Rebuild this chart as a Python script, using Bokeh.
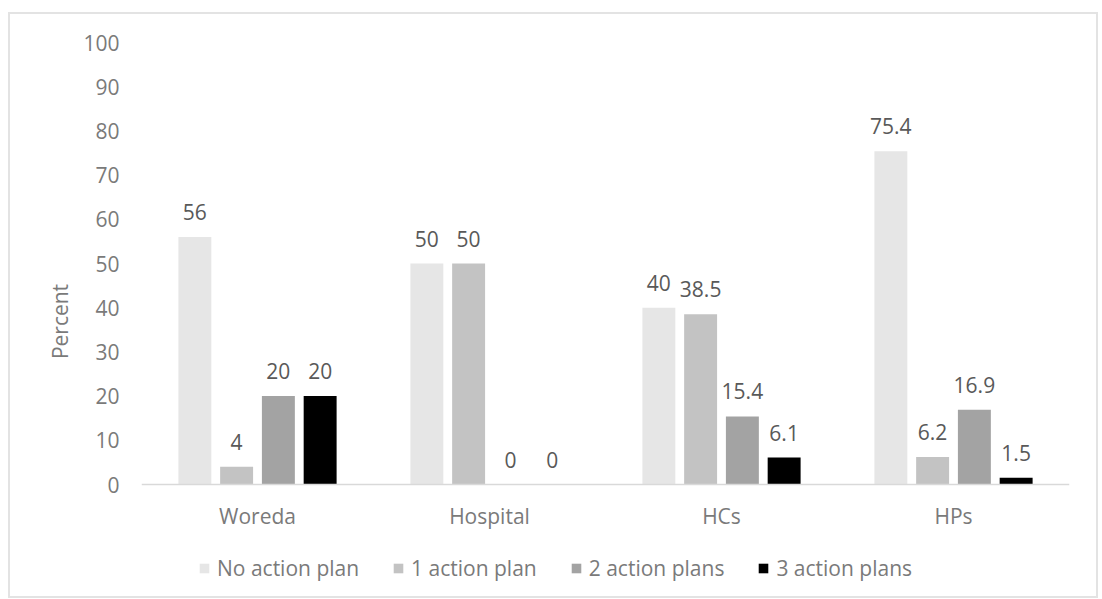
from bokeh.plotting import figure
from bokeh.models import ColumnDataSource, Range1d, FixedTicker, LabelSet, Legend, LegendItem, Span
from bokeh.transform import dodge
from bokeh.core.properties import value
from bokeh.embed import file_html
from bokeh.resources import INLINE

categories = ["Woreda", "Hospital", "HCs", "HPs"]
series = ["No action plan", "1 action plan", "2 action plans", "3 action plans"]
no_action = [56, 50, 40, 75.4]
one_action = [4, 50, 38.5, 6.2]
two_actions = [20, 0, 15.4, 16.9]
three_actions = [20, 0, 6.1, 1.5]
y_ticks = [0, 10, 20, 30, 40, 50, 60, 70, 80, 90, 100]

colors = ["#e6e6e6", "#c3c3c3", "#a3a3a3", "#000000"]
values = [no_action, one_action, two_actions, three_actions]
FONT = "Open Sans"
FS = "21px"

# frame extends below zero so the category labels and legend sit inside it
frame_h = 558
y_start = -(frame_h - 442) / 442 * 100
p = figure(x_range=categories, y_range=Range1d(y_start, 100), width=1090, height=586,
           output_backend="svg", toolbar_location=None, x_axis_location=None,
           min_border_left=131, min_border_right=31, min_border_top=28, min_border_bottom=0)
p.styles = {"border": "2px solid #e3e3e3", "margin-top": "12px", "margin-left": "8px"}
p.outline_line_color = None
p.xgrid.grid_line_color = None
p.ygrid.grid_line_color = None
p.background_fill_color = "white"
p.border_fill_color = "white"

p.add_layout(Span(location=0, dimension="width", line_color="#d9d9d9", line_width=1.7))

offsets = [-0.27, -0.09, 0.09, 0.27]
items = []
for name, vals, col, off in zip(series, values, colors, offsets):
    src = ColumnDataSource(dict(cat=categories, val=vals, lab=[f"{v:g}" for v in vals]))
    r = p.vbar(x=dodge("cat", off, range=p.x_range), top="val", width=0.142, source=src,
               fill_color=col, line_color=None)
    items.append(LegendItem(label=name, renderers=[r]))
    labels = LabelSet(x=dodge("cat", off, range=p.x_range), y="val", text="lab", source=src,
                      y_offset=25, text_align="center", text_baseline="middle",
                      text_font=value(FONT), text_font_size=FS, text_color="#595959")
    p.add_layout(labels)

cat_src = ColumnDataSource(dict(cat=categories, zero=[0] * len(categories)))
p.add_layout(LabelSet(x="cat", y="zero", text="cat", source=cat_src, y_offset=-31,
                      text_align="center", text_baseline="middle",
                      text_font=value(FONT), text_font_size=FS, text_color="#7a7a7a"))

yax = p.yaxis[0]
yax.ticker = FixedTicker(ticks=y_ticks)
yax.axis_line_color = None
yax.major_tick_line_color = None
yax.minor_tick_line_color = None
yax.major_tick_out = 0
yax.major_label_standoff = 22
yax.major_label_text_font = FONT
yax.major_label_text_font_size = FS
yax.major_label_text_color = "#7a7a7a"
yax.axis_label = "Percent"
yax.axis_label_text_font = FONT
yax.axis_label_text_font_size = FS
yax.axis_label_text_font_style = "normal"
yax.axis_label_text_color = "#7a7a7a"
yax.axis_label_standoff = 6

legend = Legend(items=items, orientation="horizontal", location=(57, 18),
                glyph_width=12, glyph_height=12, label_standoff=7, spacing=33,
                padding=0, margin=0, border_line_color=None, background_fill_alpha=0,
                label_text_font=FONT, label_text_font_size=FS, label_text_color="#7a7a7a")
p.add_layout(legend, "center")

open("out.html", "w").write(file_html(p, INLINE))
